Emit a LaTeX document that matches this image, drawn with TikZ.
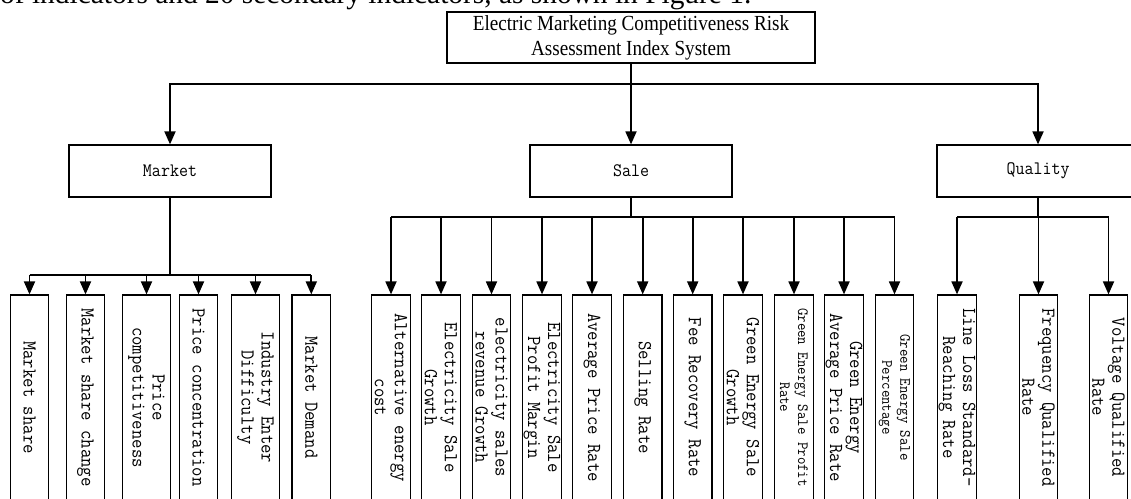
\documentclass[tikz,border=0pt]{standalone}
\usepackage{fontspec}
\setmainfont{Liberation Serif}
\newfontfamily\monof[FakeStretch=0.92]{Latin Modern Mono}
\newfontfamily\titlef[FakeStretch=0.89]{Liberation Serif}
\usetikzlibrary{arrows.meta}
\tikzset{
 box/.style={draw=black, line width=1.2pt, inner sep=0pt},
 topbox/.style={box, minimum width=368pt, minimum height=51pt, align=center, font=\titlef\fontsize{21.5}{25}\selectfont},
 midbox/.style={box, minimum width=202pt, minimum height=52pt, font=\monof\fontsize{19}{20}\selectfont},
 leaf/.style={box, rotate=-90, minimum width=205pt, minimum height=38.7pt, align=center, font=\monof\fontsize{19.8}{20}\selectfont},
 leafw/.style={leaf, minimum height=47.3pt},
 leafs/.style={leaf, font=\monof\fontsize{15.7}{18}\selectfont},
 conn/.style={line width=1.8pt},
 arr/.style={conn, -{Triangle[length=13pt,width=11pt]}},
}
\begin{document}
\begin{tikzpicture}[x=1pt,y=-1pt]
\useasboundingbox (0,0) rectangle (1131,498);
\clip (0,0) rectangle (1131,498);
\fill[white] (0,0) rectangle (1131,498);
% caption fragment
\node[anchor=base west, inner sep=0pt, font=\fontsize{29.4}{30}\selectfont] (cap) at (0,3.5) {of indicators and 20 secondary indicators, as shown in Figure 1.};
% top
\node[topbox] (top) at (631,37.5) {Electric Marketing Competitiveness Risk\\Assessment Index System};
% middle
\node[midbox] (market) at (170,171) {Market};
\node[midbox] (sale) at (631,171) {Sale};
\node[midbox] (quality) at (1038,171) {Quality};
% market leaves
\node[leaf]  (m1) at (29.5,397.5) {Market share};
\node[leaf]  (m2) at (85.5,397.5) {Market share change};
\node[leafw] (m3) at (146.5,397.5) {Price\\competitiveness};
\node[leaf]  (m4) at (198.5,397.5) {Price concentration};
\node[leafw] (m5) at (255.5,397.5) {Industry Enter\\Difficulty};
\node[leaf]  (m6) at (311.3,397.5) {Market Demand};
% sale leaves
\node[leaf]  (s1) at (391,397.5) {Alternative energy\\cost};
\node[leaf]  (s2) at (441,397.5) {Electricity Sale\\Growth};
\node[leaf]  (s3) at (491.5,397.5) {electricity sales\\revenue Growth};
\node[leaf]  (s4) at (542,397.5) {Electricity Sale\\Profit Margin};
\node[leaf]  (s5) at (592,397.5) {Average Price Rate};
\node[leaf]  (s6) at (642.7,397.5) {Selling Rate};
\node[leaf]  (s7) at (692.7,397.5) {Fee Recovery Rate};
\node[leaf]  (s8) at (743,397.5) {Green Energy Sale\\Growth};
\node[leafs] (s9) at (794,397.5) {Green Energy Sale Profit\\Rate};
\node[leaf]  (s10) at (844,397.5) {Green Energy\\Average Price Rate};
\node[leafs] (s11) at (894.5,397.5) {Green Energy Sale\\Percentage};
% quality leaves
\node[leaf]  (q1) at (957,397.5) {Line Loss Standard–\\Reaching Rate};
\node[leaf]  (q2) at (1038.5,397.5) {Frequency Qualified\\Rate};
\node[leaf]  (q3) at (1108.5,397.5) {Voltage Qualified\\Rate};
% top connectors
\coordinate (hl) at (631,84);
\draw[arr] (top.south) -- (sale.north);
\draw[arr] (hl) -| (market.north);
\draw[arr] (hl) -| (quality.north);
% market branch
\coordinate (mb) at (170,275);
\draw[conn] (market.south) -- (mb);
\draw[conn] (m1.west |- mb) -- (m6.west |- mb);
\foreach \n in {m1,m2,m3,m4,m5,m6} \draw[arr] (\n.west |- mb) -- (\n.west);
% sale branch
\coordinate (sb) at (631,217);
\draw[conn] (sale.south) -- (sb);
\draw[conn] (s1.west |- sb) -- (s11.west |- sb);
\foreach \n in {s1,s2,s3,s4,s5,s6,s7,s8,s9,s10,s11} \draw[arr] (\n.west |- sb) -- (\n.west);
% quality branch
\coordinate (qb) at (1038,217);
\draw[conn] (quality.south) -- (qb);
\draw[conn] (q1.west |- qb) -- (q3.west |- qb);
\foreach \n in {q1,q2,q3} \draw[arr] (\n.west |- qb) -- (\n.west);
\end{tikzpicture}
\end{document}
